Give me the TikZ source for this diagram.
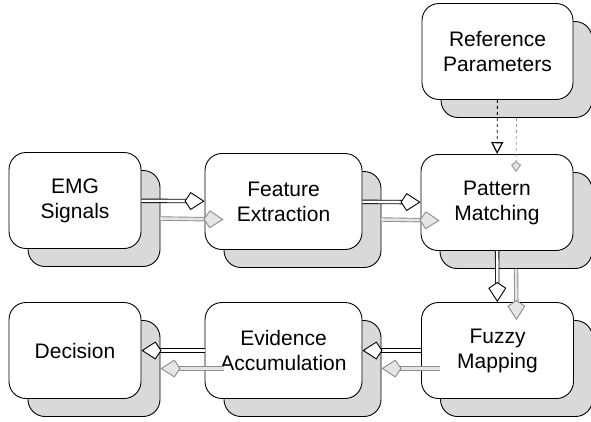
\documentclass[tikz,border=0pt]{standalone}
\usepackage{fontspec}
\setmainfont{Liberation Sans}
\usetikzlibrary{arrows.meta,shadows}
\tikzset{
    block/.style={
        draw, line width=0.9pt, rounded corners=17pt, fill=white,
        minimum height=96pt, inner sep=2pt, align=center,
        font=\fontsize{21}{25}\selectfont,
        drop shadow={shadow xshift=19pt, shadow yshift=-18pt,
            fill=black!15, draw=black, line width=0.9pt, opacity=1}
    },
    flow/.style={
        draw=black, line width=0.9pt, double=white, double distance=2.6pt,
        -{Kite[fill=white, length=20pt, width=18pt, inset=6pt, line width=0.9pt]}
    },
    flowshadow/.style={
        draw=black!45, line width=0.9pt, double=black!10, double distance=2.6pt,
        -{Kite[fill=black!10, length=20pt, width=18pt, inset=6pt, line width=0.9pt]}
    },
    link/.style={
        draw=black, line width=0.9pt, dashed,
        -{Triangle[open, length=12pt, width=12pt, line width=1.2pt]}
    },
    linkshadow/.style={
        draw=black!40, line width=0.8pt, dashed,
        -{Kite[fill=black!10, length=11pt, width=10pt, inset=4pt, line width=0.9pt]}
    },
}

\begin{document}
\begin{tikzpicture}[x=1pt, y=-1pt]
\useasboundingbox (0,0) rectangle (591,421);

% boxes
\node[block, minimum width=151pt] (ref) at (497.5,51.5) {Reference\\Parameters};
\node[block, minimum width=132pt] (emg) at (75,200.5) {EMG\\Signals};
\node[block, minimum width=157pt] (feat) at (283.5,201.5) {Feature\\Extraction};
\node[block, minimum width=152pt] (patt) at (497,202.5) {Pattern\\Matching};
\node[block, minimum width=152pt] (fuzzy) at (497.5,350.5) {Fuzzy\\Mapping};
\node[block, minimum width=157pt] (evid) at (283.5,350.5) {Evidence\\Accumulation};
\node[block, minimum width=132pt] (dec) at (75,350.5) {Decision};

% shadows of the connectors
\draw[linkshadow] ([shift={(19,18)}]ref.south) -- ([shift={(19,18)}]patt.north);
\draw[flowshadow] ([shift={(19,18)}]emg.east) -- ([shift={(19,18)}]feat.west);
\draw[flowshadow] ([shift={(19,18)}]feat.east) -- ([shift={(19,18)}]patt.west);
\draw[flowshadow] ([shift={(19,18)}]patt.south) -- ([shift={(19,18)}]fuzzy.north);
\draw[flowshadow] ([shift={(19,18)}]fuzzy.west) -- ([shift={(19,18)}]evid.east);
\draw[flowshadow] ([shift={(19,18)}]evid.west) -- ([shift={(19,18)}]dec.east);

% connectors
\draw[link] (ref) -- (patt);
\draw[flow] (emg) -- (feat);
\draw[flow] (feat) -- (patt);
\draw[flow] (patt) -- (fuzzy);
\draw[flow] (fuzzy) -- (evid);
\draw[flow] (evid) -- (dec);
\end{tikzpicture}
\end{document}
